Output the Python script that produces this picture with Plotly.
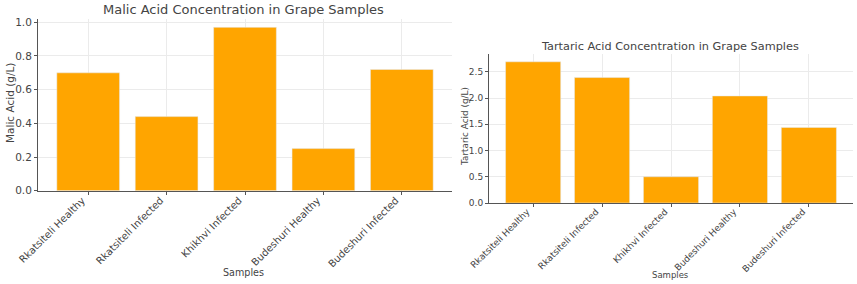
import plotly.graph_objects as go

samples = ["Rkatsiteli Healthy", "Rkatsiteli Infected", "Khikhvi Infected",
           "Budeshuri Healthy", "Budeshuri Infected"]
malic = [0.70, 0.44, 0.97, 0.25, 0.72]
tartaric = [2.69, 2.39, 0.50, 2.04, 1.44]

W, H = 857, 284
BAR = "#FFA500"
TXT = "#444444"
GRID = "#ebebeb"
AX = "#555555"
FONT = "DejaVu Sans"

def px(x):
    return x / W

def py(y):
    return 1 - y / H

fig = go.Figure()
fig.add_trace(go.Bar(x=list(range(5)), y=malic, marker_color=BAR, width=0.8,
                     xaxis="x", yaxis="y", showlegend=False))
fig.add_trace(go.Bar(x=list(range(5)), y=tartaric, marker_color=BAR, width=0.8,
                     xaxis="x2", yaxis="y2", showlegend=False))

common_x = dict(tickmode="array", tickvals=list(range(5)), ticktext=samples,
                tickangle=-45, showgrid=True, gridcolor=GRID, gridwidth=1,
                showline=True, linecolor=AX, linewidth=1, ticks="outside",
                ticklen=3, tickcolor=AX, zeroline=False, automargin=False,
                ticklabelstandoff=-4, ticklabelshift=-6)
common_y = dict(showgrid=True, gridcolor=GRID, gridwidth=1, showline=True,
                linecolor=AX, linewidth=1, ticks="outside", ticklen=3,
                tickcolor=AX, zeroline=False, automargin=False)

fig.update_layout(
    width=W, height=H, margin=dict(l=0, r=0, t=0, b=0),
    paper_bgcolor="white", plot_bgcolor="white",
    font=dict(family=FONT, color=TXT),
    bargap=0.2,
    xaxis=dict(domain=[px(38), px(452)], range=[-0.64, 4.64], anchor="y",
               tickfont=dict(size=10, color=TXT), **common_x),
    yaxis=dict(domain=[py(190.7), py(19.2)], range=[0, 1.0185], anchor="x",
               tickvals=[0, 0.2, 0.4, 0.6, 0.8, 1.0], tickformat=".1f",
               tickfont=dict(size=10.5, color=TXT), **common_y),
    xaxis2=dict(domain=[px(489), px(853)], range=[-0.64, 4.64], anchor="y2",
                tickfont=dict(size=9, color=TXT), **common_x),
    yaxis2=dict(domain=[py(203), py(54.2)], range=[0, 2.835], anchor="x2",
                tickvals=[0, 0.5, 1.0, 1.5, 2.0, 2.5], tickformat=".1f",
                tickfont=dict(size=9, color=TXT), **common_y),
)

ann = [
    dict(text="Malic Acid Concentration in Grape Samples", x=px(244), y=py(10),
         font=dict(size=13, color=TXT)),
    dict(text="Tartaric Acid Concentration in Grape Samples", x=px(670), y=py(46),
         font=dict(size=11.3, color=TXT)),
    dict(text="Malic Acid (g/L)", x=px(10), y=py(103), textangle=-90,
         font=dict(size=10.5, color=TXT)),
    dict(text="Tartaric Acid (g/L)", x=px(465), y=py(127), textangle=-90,
         font=dict(size=8.9, color=TXT)),
    dict(text="Samples", x=px(244), y=py(272), font=dict(size=9.6, color=TXT)),
    dict(text="Samples", x=px(670), y=py(275), font=dict(size=8.5, color=TXT)),
]
for a in ann:
    fig.add_annotation(xref="paper", yref="paper", showarrow=False,
                       xanchor="center", yanchor="middle", **a)

fig.write_html("out.html")
